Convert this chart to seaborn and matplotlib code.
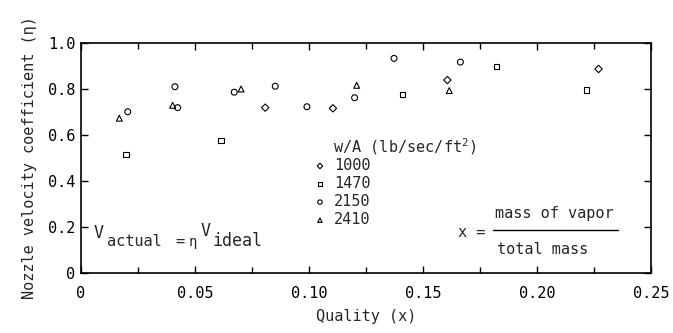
import matplotlib
matplotlib.use("Agg")
import matplotlib.pyplot as plt
import seaborn as sns
import pandas as pd
from matplotlib.ticker import MultipleLocator, FixedLocator

# ---- data ----
q_1000 = [0.0808, 0.1105, 0.1607, 0.2270]
eta_1000 = [0.719, 0.716, 0.839, 0.887]

q_1470 = [0.0197, 0.0614, 0.1409, 0.1823, 0.2218]
eta_1470 = [0.516, 0.575, 0.775, 0.898, 0.796]

q_2150 = [0.0205, 0.0412, 0.0424, 0.0672, 0.0852, 0.0991, 0.1200, 0.1373, 0.1664]
eta_2150 = [0.701, 0.810, 0.719, 0.786, 0.812, 0.723, 0.762, 0.933, 0.917]

q_2410 = [0.0168, 0.0402, 0.0702, 0.1209, 0.1615]
eta_2410 = [0.673, 0.729, 0.800, 0.816, 0.793]

series_labels = ["1000", "1470", "2150", "2410"]
series_markers = ["D", "s", "o", "^"]
x_ticks = [0, 0.05, 0.10, 0.15, 0.20, 0.25]
x_ticklabels = ["0", "0.05", "0.10", "0.15", "0.20", "0.25"]
y_ticks = [0, 0.2, 0.4, 0.6, 0.8, 1.0]
y_ticklabels = ["0", "0.2", "0.4", "0.6", "0.8", "1.0"]

sns.set_style("ticks")
plt.rcParams["font.family"] = ["DejaVu Sans Mono", "DejaVu Sans"]
plt.rcParams["mathtext.fontset"] = "custom"
plt.rcParams["mathtext.rm"] = "DejaVu Sans Mono"
plt.rcParams["mathtext.it"] = "DejaVu Sans Mono"
plt.rcParams["mathtext.bf"] = "DejaVu Sans Mono"

frames = []
for lab, xs, ys in zip(series_labels,
                       [q_1000, q_1470, q_2150, q_2410],
                       [eta_1000, eta_1470, eta_2150, eta_2410]):
    frames.append(pd.DataFrame({"Quality": xs, "eta": ys, "w/A": lab}))
df = pd.concat(frames, ignore_index=True)

W, H = 673, 333
fig = plt.figure(figsize=(W / 100, H / 100), dpi=100)
ax = fig.add_axes([81 / W, 1 - 273 / H, 570 / W, 230 / H])

sizes = {"1000": 14, "1470": 15, "2150": 18, "2410": 18}
for lab, mk in zip(series_labels, series_markers):
    sub = df[df["w/A"] == lab]
    sns.scatterplot(data=sub, x="Quality", y="eta", marker=mk, s=sizes[lab],
                    facecolor="none", edgecolor="black", linewidth=0.8,
                    label=lab, ax=ax, legend=False)

ax.set_xlim(0, 0.25)
ax.set_ylim(0, 1.0)
ax.xaxis.set_major_locator(FixedLocator(x_ticks))
ax.set_xticklabels(x_ticklabels)
ax.xaxis.set_minor_locator(MultipleLocator(0.025))
ax.yaxis.set_major_locator(FixedLocator(y_ticks))
ax.set_yticklabels(y_ticklabels)

for s in ax.spines.values():
    s.set_visible(True)
    s.set_color("black")
    s.set_linewidth(1.2)

ax.tick_params(axis="both", which="both", direction="in", top=True, right=True,
               colors="black", labelsize=11, width=1.0)
ax.tick_params(axis="both", which="major", length=5)
ax.tick_params(axis="both", which="minor", length=4)
ax.tick_params(axis="x", pad=9)
ax.tick_params(axis="y", pad=4)

ax.set_xlabel("Quality (x)", fontsize=11, labelpad=6)
ax.set_ylabel("Nozzle velocity coefficient (\u03b7)", fontsize=11, labelpad=8)

# legend
leg = ax.legend(loc="upper left", bbox_to_anchor=(0.4085, 0.500), frameon=False,
                fontsize=11, handlelength=0.8, handletextpad=0.5,
                labelspacing=0.2, borderpad=0, borderaxespad=0,
                markerscale=0.75)
ax.text(0.442, 0.548, "w/A (lb/sec/ft$^{2}$)", transform=ax.transAxes,
        fontsize=11, ha="left", va="center")

# V_actual = eta V_ideal  (typewriter-style layout, pieces in figure pixels)
def ftext(px, py, s, size=11):
    fig.text(px / W, 1 - py / H, s, fontsize=size, ha="left", va="baseline")

ftext(94, 238, "V", 12)
ftext(107, 246, "actual")
ftext(175, 246, "=")
ftext(189, 246, "\u03b7", 10)
ftext(201, 236, "V", 12)
ftext(213, 246, "ideal", 12)

# quality definition
ax.text(0.661, 0.178, "x =", transform=ax.transAxes, fontsize=11,
        ha="left", va="center")
ax.text(0.726, 0.258, "mass of vapor", transform=ax.transAxes, fontsize=11,
        ha="left", va="center")
ax.text(0.730, 0.100, "total mass", transform=ax.transAxes, fontsize=11,
        ha="left", va="center")
ax.plot([0.723, 0.942], [0.185, 0.185], transform=ax.transAxes,
        color="black", linewidth=1.0)

fig.savefig("out.png", dpi=100)
